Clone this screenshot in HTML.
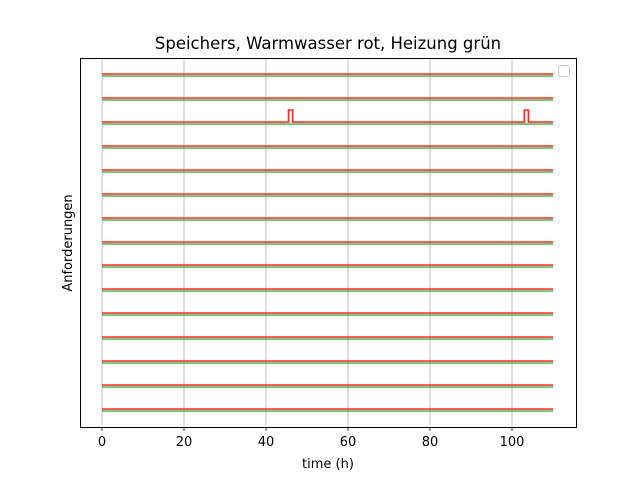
<!DOCTYPE html>
<html><head><meta charset="utf-8"><style>
body{margin:0;background:#fff}
svg text{font-family:"DejaVu Sans","Liberation Sans",sans-serif;fill:#000}
</style></head><body>
<svg id="c" width="640" height="480" viewBox="0 0 640 480">
<rect width="640" height="480" fill="#fff"/>
<text x="328" y="49" font-size="16.5" text-anchor="middle">Speichers, Warmwasser rot, Heizung grün</text>
<g id="grid"></g>
<g id="series"></g>
<rect x="80.5" y="58.5" width="496" height="369" fill="none" stroke="#000" stroke-width="1"/>
<g id="ticks"></g>
<text x="328" y="468" font-size="13" text-anchor="middle">time (h)</text>
<text transform="translate(72,243) rotate(-90)" font-size="13" text-anchor="middle">Anforderungen</text>
<rect x="558.5" y="65.5" width="11" height="11" rx="2" fill="#fff" stroke="#ccc"/>
</svg>
<script>
const xTicks=[0,20,40,60,80,100];
const rowCount=15;
const tStart=0, tEnd=110;
// spikes in warm water demand: [rowIndexFromTop, start h, end h]
const spikeRows=[2,2];
const spikeStarts=[45.5,103];
const spikeEnds=[46.5,104];
const NS="http://www.w3.org/2000/svg";
const x=v=>102+v*4.1;
const rowY=i=>Math.round(74+i*23.93);
const g=document.getElementById('grid'),s=document.getElementById('series'),tk=document.getElementById('ticks');
function mk(tag,attrs,parent){const e=document.createElementNS(NS,tag);for(const k in attrs)e.setAttribute(k,attrs[k]);parent.appendChild(e);return e;}
xTicks.forEach(v=>{
 const l=mk('line',{x1:x(v),x2:x(v),y1:58,y2:427,stroke:'#b0b0b0','stroke-width':0.8},g);
 
 
 const t=mk('line',{x1:x(v),x2:x(v),y1:427,y2:431,stroke:'#000','stroke-width':0.8},tk);
 
 
 const tx=mk('text',{x:x(v),y:446,'font-size':13,'text-anchor':'middle'},tk);
 tx.textContent=v;
 
 
});
for(let i=0;i<rowCount;i++){
 const y=rowY(i);
 const gr=mk('line',{x1:x(tStart),x2:x(tEnd),y1:y+2,y2:y+2,stroke:'#2ca02c','stroke-width':1.3},s);
 
 
 let d='M'+x(tStart)+','+y;
 spikeRows.forEach((r,j)=>{if(r===i){d+=' L'+x(spikeStarts[j])+','+y+' L'+x(spikeStarts[j])+','+(y-12)+' L'+x(spikeEnds[j])+','+(y-12)+' L'+x(spikeEnds[j])+','+y;}});
 d+=' L'+x(tEnd)+','+y;
 const rd=mk('path',{d:d,fill:'none',stroke:'#ff0000','stroke-width':1.6,'stroke-opacity':0.85},s);
 
 
}
</script>
</body></html>
